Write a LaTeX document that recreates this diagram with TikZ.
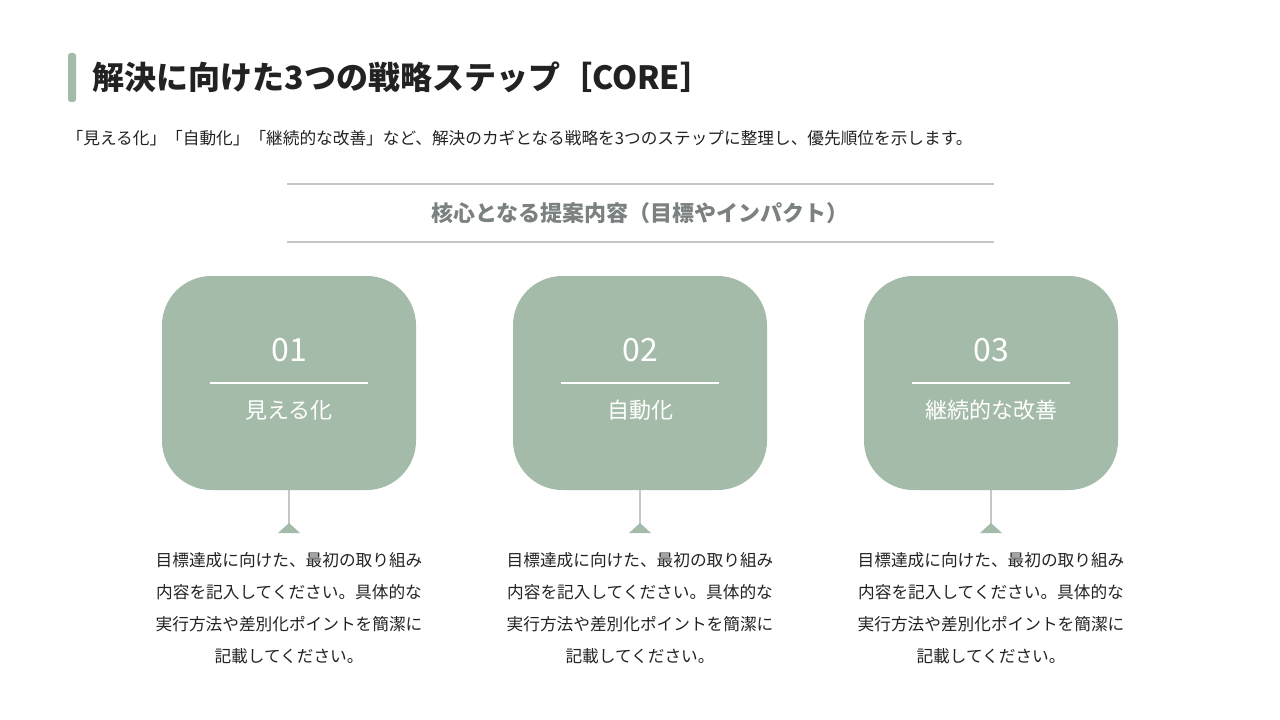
\documentclass[tikz,border=0pt]{standalone}
\usepackage{fontspec}
\setmainfont{Noto Sans CJK JP}
\newfontfamily\jpbold{Noto Sans CJK JP}[FakeBold=0]
\definecolor{sage}{HTML}{A5BBA9}
\definecolor{greyline}{HTML}{C4C7C8}
\definecolor{headgrey}{HTML}{7B8080}
\definecolor{txt}{HTML}{222222}
\begin{document}
\begin{tikzpicture}[x=0.75pt,y=-0.75pt,
  card/.style={fill=sage,rounded corners=37pt,minimum width=190.5pt,minimum height=160.5pt,inner sep=0pt},
  num/.style={text=white,font=\fontsize{24}{28}\selectfont},
  lab/.style={text=white,font=\fontsize{16.5}{20}\selectfont},
  body/.style={text=txt,font=\fontsize{12.5}{24}\selectfont,align=center},
  stem/.style={draw=greyline,line width=1.5pt}]
\useasboundingbox (0,0) rectangle (1280,720);
\fill[sage,rounded corners=2pt] (68,53) rectangle (76,102);
\node[anchor=west,text=txt,font=\fontsize{24}{28}\selectfont\bfseries] (title) at (88,77) {解決に向けた3つの戦略ステップ［CORE］};
\node[anchor=west,text=txt,font=\fontsize{12.5}{15}\selectfont] (sub) at (62,138) {「見える化」「自動化」「継続的な改善」など、解決のカギとなる戦略を3つのステップに整理し、優先順位を示します。};
\draw[greyline,line width=1.2pt] (287,184) -- (994,184);
\draw[greyline,line width=1.2pt] (287,242) -- (994,242);
\node[text=headgrey,font=\fontsize{16.5}{20}\selectfont\bfseries] (head) at (640,213) {核心となる提案内容（目標やインパクト）};
\foreach \i/\x/\n/\l in {1/289/01/見える化,2/640/02/自動化,3/991/03/継続的な改善}{
  \node[card] (c\i) at (\x,383) {};
  \node[num] (n\i) at (\x,350) {\n};
  \draw[white,line width=0.8pt] (\x-79,383) -- (\x+79,383);
  \node[lab] (l\i) at (\x,410) {\l};
  \coordinate (t\i) at (\x,526);
  \draw[stem] (c\i.south) -- (t\i);
  \fill[sage] (\x,523) -- (\x+11,533) -- (\x-11,533) -- cycle;
  \node[body,anchor=north] (b\i) at (\x,548) {目標達成に向けた、最初の取り組み\\内容を記入してください。具体的な\\実行方法や差別化ポイントを簡潔に\\記載してください。};
}
\end{tikzpicture}
\end{document}
